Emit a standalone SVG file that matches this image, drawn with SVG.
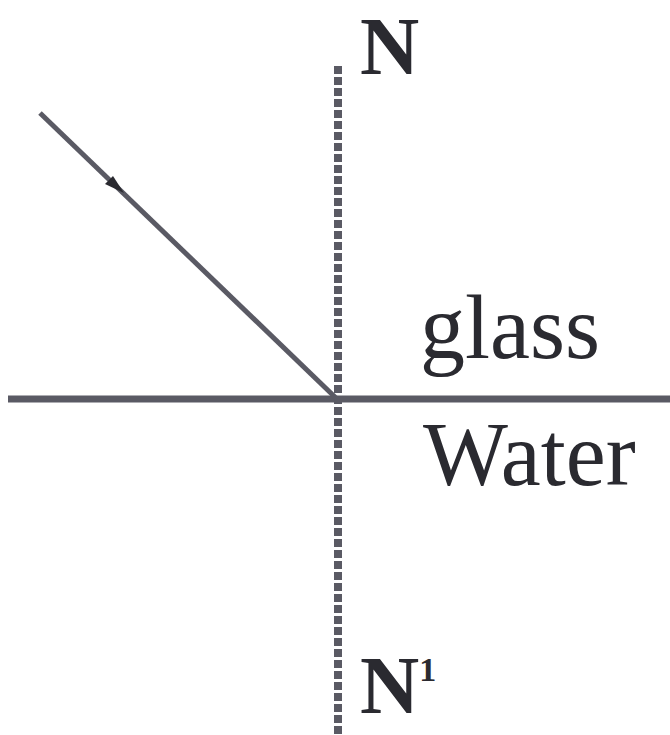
<svg xmlns="http://www.w3.org/2000/svg" width="670" height="735" viewBox="0 0 670 735">
<style>
.lbl{font-family:"Liberation Serif","Times New Roman",serif;fill:#2a2a30}
.b{font-weight:bold}
.ln{stroke:#5a5a64;fill:none}
</style>
<rect width="670" height="735" fill="#ffffff"/>
<g id="connectors">
<line id="interface" class="ln" x1="8" y1="399" x2="670" y2="399" stroke-width="7"/>
<line id="normal" class="ln" x1="338" y1="66" x2="338" y2="735" stroke-width="8" stroke-dasharray="8,3" stroke="#8a8a94"/>
<line id="ray" class="ln" x1="40" y1="113" x2="337" y2="399" stroke-width="5" stroke="#4a4a54"/>
<polygon id="ray-arrow" points="124,193 105,184 113,176" fill="#2a2a30"/>
</g>
<g id="label-N"><text class="lbl b" x="360" y="74" font-size="82">N</text></g>
<g id="label-glass"><text class="lbl" x="420" y="358" font-size="90">glass</text></g>
<g id="label-water"><text class="lbl" x="423" y="485" font-size="90">Water</text></g>
<g id="label-N1"><text class="lbl b" x="360" y="713" font-size="82">N<tspan font-size="34" dy="-32">1</tspan></text></g>
</svg>
